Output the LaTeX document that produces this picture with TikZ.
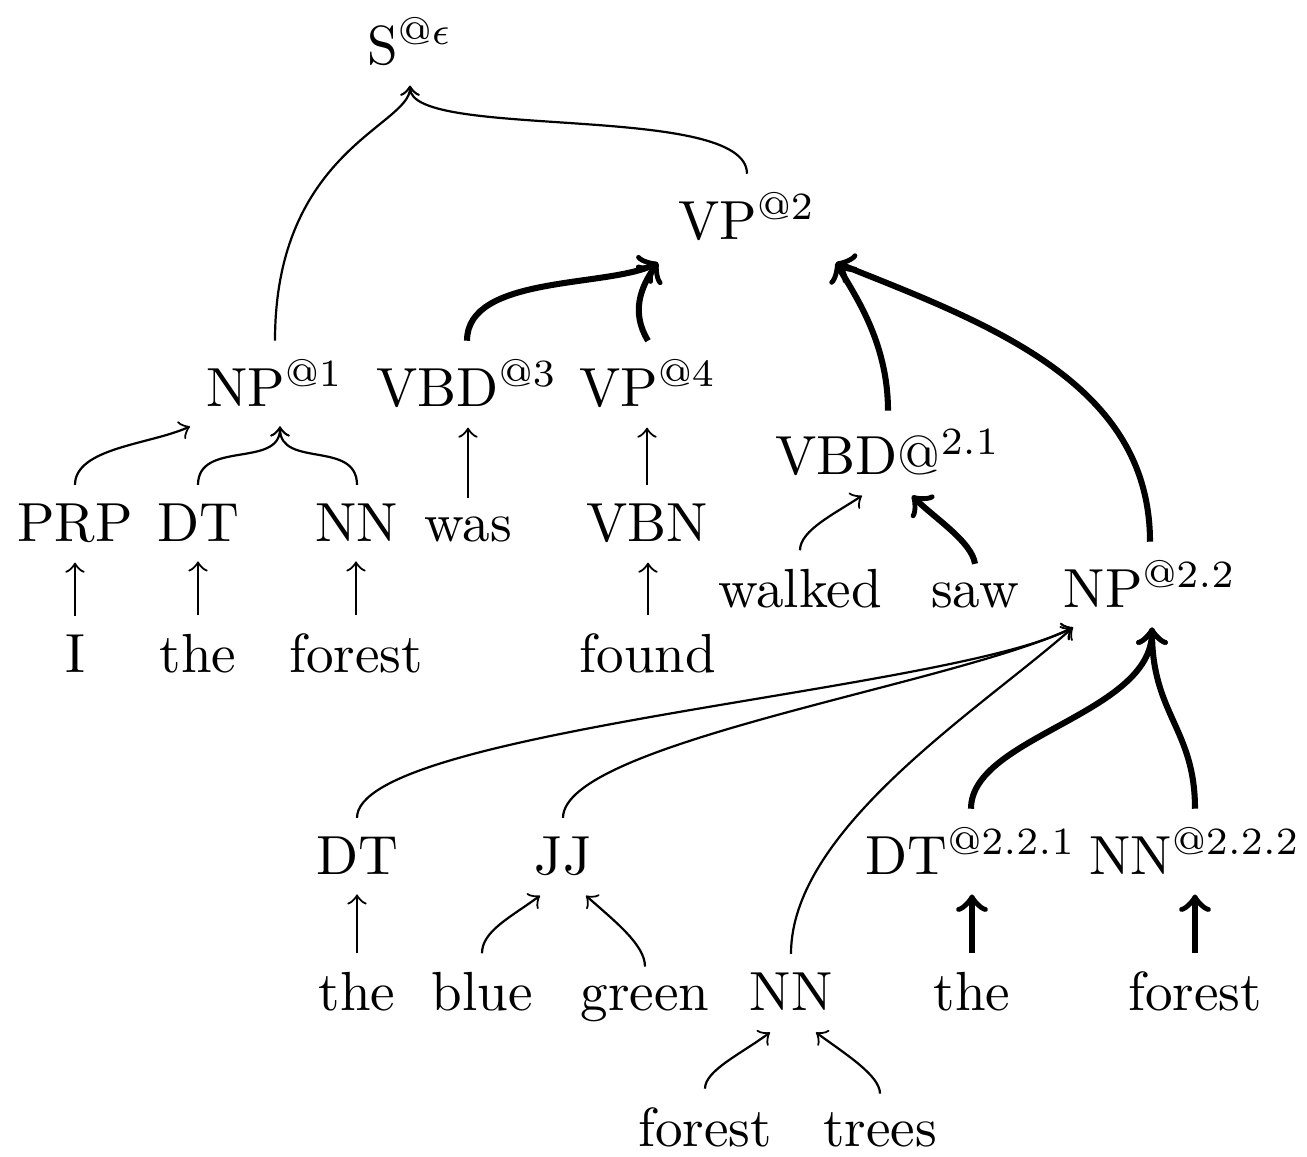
\documentclass[tikz,border=0pt]{standalone}
\usetikzlibrary{calc}
\begin{document}
\begin{tikzpicture}[x=0.1815pt,y=-0.1815pt,
  lab/.style={anchor=base},
  tn/.style={->,line width=0.4pt},
  tk/.style={->,line width=1.1pt}]
\useasboundingbox (0,0) rectangle (1307,1157);
% nodes
\node[lab] (s) at (410,65) {S$^{@\epsilon}$};
\node[lab] (vp2) at (747,240) {VP$^{@2}$};
\node[lab] (np1) at (275,407) {NP$^{@1}$};
\node[lab] (vbd3) at (467,407) {VBD$^{@3}$};
\node[lab] (vp4) at (648,407) {VP$^{@4}$};
\node[lab] (vbd21) at (888,475) {VBD@$^{2.1}$};
\node[lab] (prp) at (75,542) {PRP};
\node[lab] (dt1) at (198,542) {DT};
\node[lab] (nn1) at (357,542) {NN};
\node[lab] (was) at (468,542) {was};
\node[lab] (vbn) at (647,542) {VBN};
\node[lab] (walked) at (800,608) {walked};
\node[lab] (saw) at (975,608) {saw};
\node[lab] (np22) at (1150,608) {NP$^{@2.2}$};
\node[lab] (i) at (75,673) {I};
\node[lab] (the1) at (198,673) {the};
\node[lab] (forest1) at (356,673) {forest};
\node[lab] (found) at (648,673) {found};
\node[lab] (dt2) at (357,875) {DT};
\node[lab] (jj) at (563,875) {JJ};
\node[lab] (dt221) at (971,875) {DT$^{@2.2.1}$};
\node[lab] (nn222) at (1195,875) {NN$^{@2.2.2}$};
\node[lab] (the2) at (357,1011) {the};
\node[lab] (blue) at (482,1011) {blue};
\node[lab] (green) at (645,1011) {green};
\node[lab] (nn2) at (791,1011) {NN};
\node[lab] (the3) at (972,1011) {the};
\node[lab] (forest2) at (1195,1011) {forest};
\node[lab] (forest3) at (705,1147) {forest};
\node[lab] (trees) at (880,1147) {trees};
% to S
\draw[tn] (np1.north) .. controls ($(np1.north)+(0,-190)$) and ($(s.south)+(0,40)$) .. (s.south);
\draw[tn] (vp2.north) .. controls ($(vp2.north)+(0,-72)$) and ($(s.south)+(0,55)$) .. (s.south);
% to VP2
\draw[tk] (vbd3.north) .. controls ($(vbd3.north)+(0,-66)$) and ($(vp2.south)+(-139,27)$) .. ($(vp2.south)+(-89,2)$);
\draw[tk] (vp4.north) .. controls ($(vp4.north)+(-17,-28)$) and ($(vp2.south)+(-107,27)$) .. ($(vp2.south)+(-89,2)$);
\draw[tk] (vbd21.north) .. controls ($(vbd21.north)+(0,-70)$) and ($(vp2.south)+(106,32)$) .. ($(vp2.south)+(89,2)$);
\draw[tk] (np22.north) .. controls ($(np22.north)+(0,-160)$) and ($(vp2.south)+(239,62)$) .. ($(vp2.south)+(89,2)$);
% to NP1
\draw[tn] (prp.north) .. controls ($(prp.north)+(0,-37)$) and ($(np1.south)+(-125,18)$) .. ($(np1.south)+(-85,0)$);
\draw[tn] (dt1.north) .. controls ($(dt1.north)+(0,-45)$) and ($(np1.south)+(5,42)$) .. ($(np1.south)+(5,0)$);
\draw[tn] (nn1.north) .. controls ($(nn1.north)+(0,-45)$) and ($(np1.south)+(5,42)$) .. ($(np1.south)+(5,0)$);
% straight unary arrows
\draw[tn] (was.north) -- (was.north |- vbd3.south);
\draw[tn] (vbn.north) -- (vbn.north |- vp4.south);
\draw[tn] (i.north) -- (i.north |- prp.south);
\draw[tn] (the1.north) -- (the1.north |- dt1.south);
\draw[tn] (forest1.north) -- (forest1.north |- nn1.south);
\draw[tn] (found.north) -- (found.north |- vbn.south);
\draw[tn] (the2.north) -- (the2.north |- dt2.south);
\draw[tk] (the3.north) -- (the3.north |- dt221.south);
\draw[tk] (forest2.north) -- (forest2.north |- nn222.south);
% to VBD2.1
\draw[tn] (walked.north) .. controls ($(walked.north)+(0,-20)$) and ($(vbd21.south)+(-53,18)$) .. ($(vbd21.south)+(-26,0)$);
\draw[tk] (saw.north) .. controls ($(saw.north)+(-3,-22)$) and ($(vbd21.south)+(46,22)$) .. ($(vbd21.south)+(24,0)$);
% to NP2.2
\draw[tn] (dt2.north) .. controls ($(dt2.north)+(0,-88)$) and ($(np22.south)+(-200,64)$) .. ($(np22.south)+(-77,0)$);
\draw[tn] (jj.north) .. controls ($(jj.north)+(0,-75)$) and ($(np22.south)+(-195,57)$) .. ($(np22.south)+(-77,0)$);
\draw[tn] (nn2.north) .. controls ($(nn2.north)+(0,-125)$) and ($(np22.south)+(-170,82)$) .. ($(np22.south)+(-77,0)$);
\draw[tk] (dt221.north) .. controls ($(dt221.north)+(0,-72)$) and ($(np22.south)+(2,87)$) .. ($(np22.south)+(2,0)$);
\draw[tk] (nn222.north) .. controls ($(nn222.north)+(0,-80)$) and ($(np22.south)+(2,87)$) .. ($(np22.south)+(2,0)$);
% to JJ
\draw[tn] (blue.north) .. controls ($(blue.north)+(0,-22)$) and ($(jj.south)+(-53,22)$) .. ($(jj.south)+(-23,0)$);
\draw[tn] (green.north) .. controls ($(green.north)+(0,-22)$) and ($(jj.south)+(51,25)$) .. ($(jj.south)+(23,0)$);
% to NN (lower)
\draw[tn] (forest3.north) .. controls ($(forest3.north)+(0,-18)$) and ($(nn2.south)+(-51,24)$) .. ($(nn2.south)+(-21,2)$);
\draw[tn] (trees.north) .. controls ($(trees.north)+(0,-18)$) and ($(nn2.south)+(55,24)$) .. ($(nn2.south)+(25,2)$);
\end{tikzpicture}
\end{document}
